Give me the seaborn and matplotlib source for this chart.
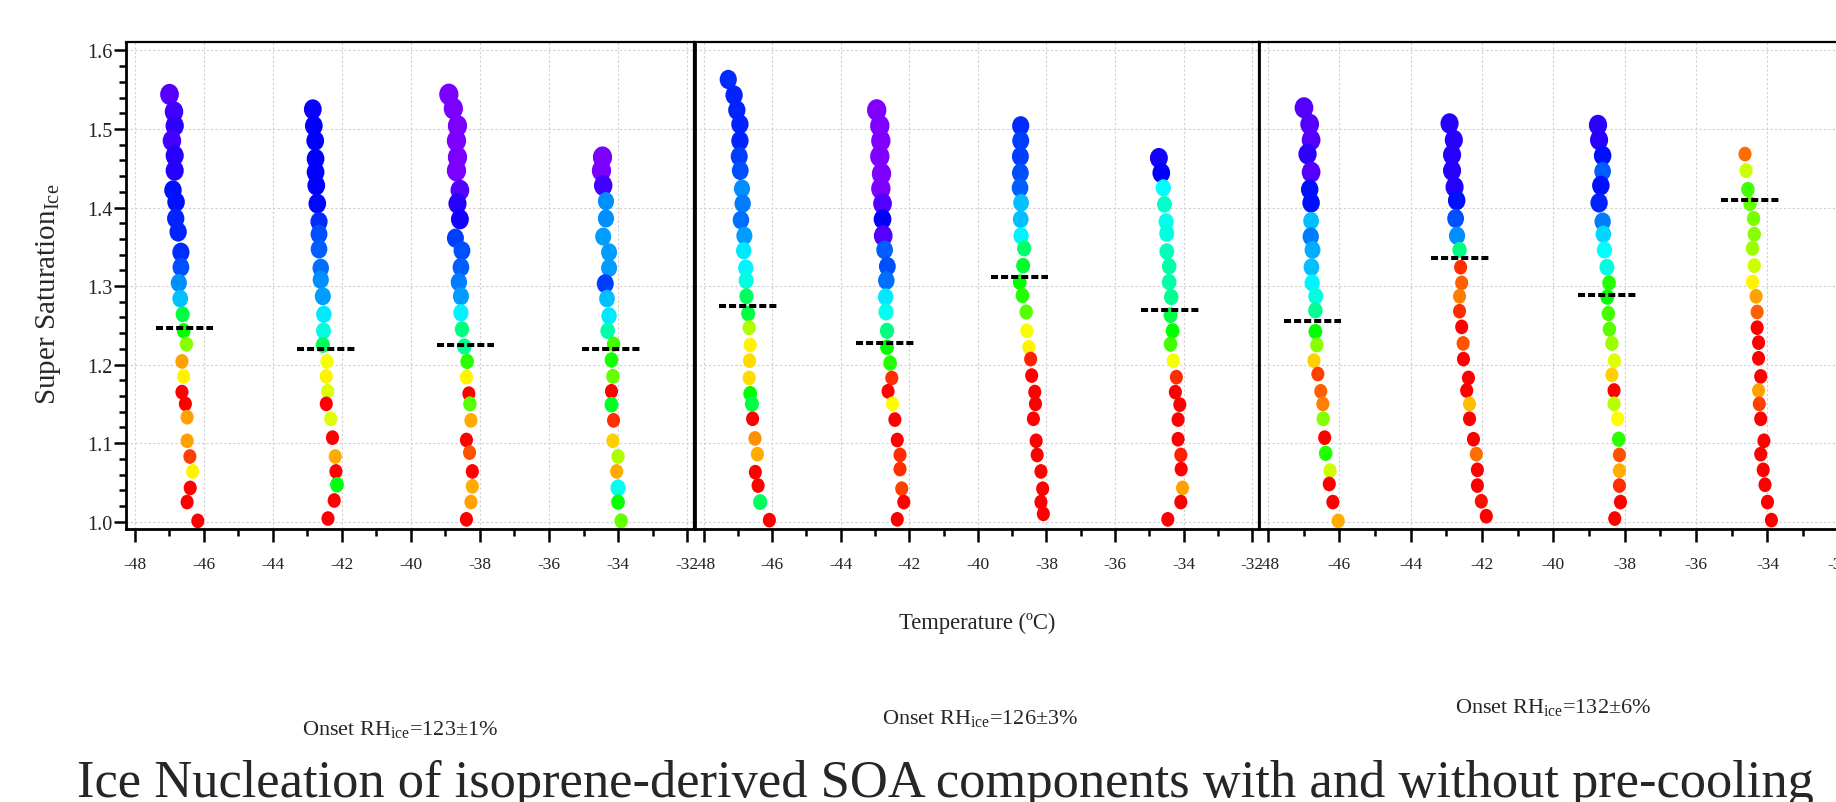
import numpy as np
import pandas as pd
import matplotlib
matplotlib.use("Agg")
import matplotlib.pyplot as plt
import seaborn as sns
from matplotlib.colors import ListedColormap, hsv_to_rgb
from matplotlib.path import Path
from matplotlib.transforms import Affine2D
from matplotlib.ticker import MultipleLocator, FormatStrFormatter

# ---------------- data (temperature degC, ice supersaturation, colour hue in degrees) ----------------
# Panel 1 : Onset RHice = 123 +/- 1 %
p1a_t = [-46.99, -46.86, -46.84, -46.92, -46.84, -46.84, -46.89, -46.80, -46.81, -46.74, -46.66, -46.66, -46.72, -46.68,
         -46.61, -46.58, -46.50, -46.63, -46.58, -46.63, -46.53, -46.48, -46.48, -46.40, -46.32, -46.39, -46.48, -46.17]
p1a_s = [1.544, 1.522, 1.504, 1.485, 1.466, 1.447, 1.422, 1.407, 1.386, 1.369, 1.343, 1.324, 1.304, 1.284,
         1.264, 1.243, 1.226, 1.204, 1.185, 1.165, 1.150, 1.133, 1.103, 1.083, 1.064, 1.043, 1.025, 1.001]
p1a_h = [259, 255, 251, 255, 248, 248, 236, 236, 232, 232, 229, 221, 206, 195,
         135, 120, 88, 38, 58, 0, 0, 38, 38, 15, 58, 0, 0, 0]

p1b_t = [-42.84, -42.81, -42.77, -42.76, -42.76, -42.74, -42.71, -42.66, -42.66, -42.66, -42.61, -42.61, -42.55, -42.52,
         -42.53, -42.55, -42.43, -42.45, -42.41, -42.45, -42.32, -42.27, -42.19, -42.17, -42.14, -42.22, -42.40]
p1b_s = [1.525, 1.504, 1.485, 1.462, 1.445, 1.428, 1.405, 1.382, 1.366, 1.347, 1.323, 1.308, 1.287, 1.264,
         1.243, 1.225, 1.204, 1.185, 1.166, 1.150, 1.131, 1.107, 1.083, 1.064, 1.047, 1.027, 1.004]
p1b_h = [242, 240, 240, 240, 240, 240, 238, 229, 221, 218, 214, 206, 203, 185,
         172, 142, 63, 58, 68, 0, 68, 0, 41, 0, 125, 0, 0]

p1c_t = [-38.90, -38.77, -38.65, -38.68, -38.65, -38.68, -38.58, -38.65, -38.58, -38.71, -38.52, -38.55, -38.61, -38.55,
         -38.55, -38.52, -38.45, -38.37, -38.39, -38.32, -38.29, -38.26, -38.39, -38.30, -38.22, -38.22, -38.26, -38.39]
p1c_s = [1.544, 1.526, 1.504, 1.485, 1.464, 1.447, 1.422, 1.405, 1.385, 1.361, 1.345, 1.324, 1.305, 1.287,
         1.266, 1.245, 1.223, 1.204, 1.184, 1.163, 1.150, 1.129, 1.104, 1.088, 1.064, 1.045, 1.025, 1.003]
p1c_h = [268, 268, 268, 268, 268, 268, 259, 248, 244, 225, 221, 218, 210, 203,
         183, 150, 154, 110, 58, 0, 100, 41, 0, 19, 0, 41, 38, 0]

p1d_t = [-34.45, -34.48, -34.43, -34.35, -34.35, -34.43, -34.26, -34.26, -34.37, -34.32, -34.26, -34.30,
         -34.13, -34.19, -34.15, -34.19, -34.19, -34.13, -34.15, -34.00, -34.04, -34.00, -34.00, -33.91]
p1d_s = [1.464, 1.447, 1.428, 1.408, 1.386, 1.363, 1.343, 1.323, 1.303, 1.284, 1.262, 1.243,
         1.226, 1.206, 1.185, 1.166, 1.149, 1.129, 1.103, 1.083, 1.064, 1.043, 1.025, 1.001]
p1d_h = [268, 268, 255, 206, 206, 203, 203, 203, 225, 195, 185, 160,
         105, 115, 96, 0, 128, 11, 49, 80, 41, 176, 118, 96]

# Panel 2 : Onset RHice = 126 +/- 3 %
p2a_t = [-47.28, -47.11, -47.03, -46.94, -46.94, -46.96, -46.93, -46.88, -46.86, -46.91, -46.81, -46.83, -46.77, -46.76, -46.75,
         -46.70, -46.67, -46.64, -46.66, -46.67, -46.64, -46.59, -46.57, -46.50, -46.43, -46.49, -46.41, -46.35, -46.08]
p2a_s = [1.563, 1.543, 1.524, 1.506, 1.485, 1.465, 1.447, 1.424, 1.405, 1.384, 1.364, 1.345, 1.323, 1.307, 1.287,
         1.265, 1.247, 1.225, 1.205, 1.183, 1.163, 1.150, 1.131, 1.106, 1.086, 1.063, 1.046, 1.025, 1.002]
p2a_h = [229, 232, 232, 232, 232, 225, 221, 206, 210, 214, 203, 185, 182, 172, 142,
         135, 80, 58, 52, 52, 120, 135, 0, 34, 41, 0, 0, 142, 0]

p2b_t = [-42.95, -42.86, -42.83, -42.86, -42.81, -42.83, -42.78, -42.78, -42.76, -42.72, -42.64, -42.67, -42.69, -42.68,
         -42.65, -42.65, -42.56, -42.51, -42.62, -42.49, -42.42, -42.35, -42.27, -42.27, -42.22, -42.16, -42.35]
p2b_s = [1.524, 1.504, 1.485, 1.465, 1.443, 1.424, 1.405, 1.385, 1.364, 1.346, 1.325, 1.307, 1.286, 1.267,
         1.243, 1.222, 1.202, 1.183, 1.166, 1.150, 1.130, 1.104, 1.085, 1.067, 1.042, 1.025, 1.003]
p2b_h = [270, 270, 270, 270, 270, 270, 259, 240, 259, 218, 221, 214, 185, 176,
         150, 120, 112, 11, 0, 60, 0, 0, 11, 11, 15, 0, 0]

p2c_t = [-38.75, -38.75, -38.76, -38.76, -38.77, -38.74, -38.75, -38.74, -38.65, -38.68, -38.78, -38.70, -38.59,
         -38.57, -38.51, -38.46, -38.43, -38.34, -38.32, -38.38, -38.30, -38.27, -38.16, -38.11, -38.16, -38.09]
p2c_s = [1.504, 1.485, 1.465, 1.444, 1.425, 1.406, 1.385, 1.364, 1.348, 1.326, 1.305, 1.288, 1.267,
         1.243, 1.222, 1.207, 1.186, 1.165, 1.150, 1.131, 1.103, 1.085, 1.064, 1.042, 1.025, 1.010]
p2c_h = [229, 225, 225, 221, 218, 195, 195, 182, 145, 130, 120, 112, 100,
         63, 58, 8, 0, 0, 0, 0, 0, 0, 0, 0, 0, 0]

p2d_t = [-34.72, -34.65, -34.59, -34.56, -34.51, -34.49, -34.49, -34.42, -34.42, -34.36, -34.38, -34.32,
         -34.38, -34.30, -34.21, -34.24, -34.11, -34.16, -34.16, -34.08, -34.07, -34.03, -34.08, -34.46]
p2d_s = [1.463, 1.444, 1.425, 1.404, 1.382, 1.367, 1.344, 1.325, 1.305, 1.286, 1.263, 1.243,
         1.226, 1.205, 1.184, 1.165, 1.149, 1.130, 1.105, 1.085, 1.067, 1.043, 1.025, 1.003]
p2d_h = [244, 240, 180, 168, 176, 172, 164, 160, 160, 154, 135, 120,
         105, 63, 11, 0, 0, 0, 0, 8, 0, 38, 0, 0]

# Panel 3 : Onset RHice = 132 +/- 6 %
p3a_t = [-46.99, -46.83, -46.79, -46.89, -46.79, -46.83, -46.79, -46.79, -46.80, -46.75, -46.78, -46.76, -46.66, -46.67,
         -46.67, -46.63, -46.71, -46.60, -46.52, -46.46, -46.45, -46.41, -46.38, -46.26, -46.28, -46.18, -46.03]
p3a_s = [1.527, 1.506, 1.486, 1.468, 1.445, 1.423, 1.406, 1.383, 1.363, 1.346, 1.324, 1.304, 1.287, 1.269,
         1.242, 1.225, 1.205, 1.188, 1.166, 1.150, 1.131, 1.107, 1.087, 1.065, 1.048, 1.025, 1.001]
p3a_h = [259, 259, 259, 251, 259, 236, 236, 195, 210, 199, 195, 182, 172, 154,
         120, 88, 49, 15, 23, 30, 88, 0, 112, 72, 0, 0, 41]

p3b_t = [-42.91, -42.79, -42.84, -42.84, -42.77, -42.71, -42.74, -42.70, -42.63, -42.60, -42.57, -42.63, -42.63,
         -42.57, -42.53, -42.52, -42.38, -42.43, -42.35, -42.35, -42.24, -42.16, -42.13, -42.13, -42.02, -41.88]
p3b_s = [1.507, 1.486, 1.467, 1.447, 1.426, 1.409, 1.386, 1.364, 1.346, 1.324, 1.304, 1.287, 1.268,
         1.248, 1.227, 1.207, 1.183, 1.167, 1.150, 1.131, 1.105, 1.086, 1.066, 1.046, 1.026, 1.007]
p3b_h = [248, 248, 248, 248, 248, 236, 221, 206, 150, 11, 23, 30, 11,
         0, 19, 0, 0, 0, 45, 0, 0, 26, 0, 0, 4, 0]

p3c_t = [-38.75, -38.72, -38.62, -38.62, -38.67, -38.72, -38.62, -38.60, -38.57, -38.50, -38.44, -38.49, -38.46,
         -38.43, -38.36, -38.29, -38.36, -38.30, -38.30, -38.20, -38.17, -38.15, -38.15, -38.15, -38.12, -38.28]
p3c_s = [1.505, 1.486, 1.466, 1.446, 1.428, 1.406, 1.382, 1.366, 1.346, 1.324, 1.304, 1.286, 1.265,
         1.245, 1.227, 1.205, 1.187, 1.167, 1.150, 1.131, 1.105, 1.085, 1.065, 1.046, 1.025, 1.004]
p3c_h = [251, 248, 236, 218, 236, 232, 210, 189, 180, 172, 112, 120, 105,
         100, 84, 68, 49, 0, 76, 60, 110, 19, 41, 11, 0, 0]

p3d_t = [-34.63, -34.60, -34.55, -34.49, -34.39, -34.37, -34.42, -34.37, -34.42, -34.32, -34.29, -34.29,
         -34.25, -34.25, -34.19, -34.25, -34.23, -34.19, -34.10, -34.19, -34.12, -34.07, -34.00, -33.89]
p3d_s = [1.468, 1.447, 1.423, 1.405, 1.386, 1.366, 1.348, 1.326, 1.305, 1.287, 1.267, 1.247,
         1.228, 1.208, 1.185, 1.167, 1.150, 1.131, 1.103, 1.086, 1.066, 1.047, 1.025, 1.002]
p3d_h = [26, 72, 105, 96, 92, 88, 84, 72, 58, 38, 23, 0,
         0, 0, 0, 38, 15, 0, 0, 0, 0, 0, 0, 0]

# onset (dashed) levels and their temperature extents, per panel
onset1_s = [1.246, 1.220, 1.2255, 1.220]
onset1_x0 = [-47.39, -43.29, -39.23, -35.03]
onset1_x1 = [-45.74, -41.59, -37.59, -33.35]
onset2_s = [1.274, 1.228, 1.312, 1.270]
onset2_x0 = [-47.55, -43.55, -39.61, -35.24]
onset2_x1 = [-45.86, -41.87, -37.94, -33.49]
onset3_s = [1.256, 1.336, 1.288, 1.409]
onset3_x0 = [-47.55, -43.42, -39.30, -35.31]
onset3_x1 = [-45.95, -41.80, -37.67, -33.65]

onset_labels = ["Onset RH$_{\\rm ice}$=123±1%", "Onset RH$_{\\rm ice}$=126±3%", "Onset RH$_{\\rm ice}$=132±6%"]
x_label = "Temperature (ºC)"
y_label = "Super Saturation$_{\\rm Ice}$"
title = "Ice Nucleation of isoprene-derived SOA components with and without pre-cooling"

# ---------------- build frames ----------------
def frame(cols):
    parts = [pd.DataFrame({"t": t, "s": s, "h": h}) for t, s, h in cols]
    return pd.concat(parts, ignore_index=True)

panels = [
    frame([(p1a_t, p1a_s, p1a_h), (p1b_t, p1b_s, p1b_h), (p1c_t, p1c_s, p1c_h), (p1d_t, p1d_s, p1d_h)]),
    frame([(p2a_t, p2a_s, p2a_h), (p2b_t, p2b_s, p2b_h), (p2c_t, p2c_s, p2c_h), (p2d_t, p2d_s, p2d_h)]),
    frame([(p3a_t, p3a_s, p3a_h), (p3b_t, p3b_s, p3b_h), (p3c_t, p3c_s, p3c_h), (p3d_t, p3d_s, p3d_h)]),
]
onsets = [(onset1_s, onset1_x0, onset1_x1), (onset2_s, onset2_x0, onset2_x1), (onset3_s, onset3_x0, onset3_x1)]

# ---------------- style ----------------
sns.set_theme(style="ticks")
plt.rcParams['font.family'] = ['Liberation Serif', 'DejaVu Serif']
plt.rcParams['mathtext.fontset'] = 'custom'
plt.rcParams['mathtext.rm'] = 'Liberation Serif'
plt.rcParams['mathtext.it'] = 'Liberation Serif:italic'
plt.rcParams['mathtext.bf'] = 'Liberation Serif:bold'
plt.rcParams['axes.unicode_minus'] = False

hues = np.linspace(0, 270, 256) / 360.0
cmap = ListedColormap(hsv_to_rgb(np.column_stack([hues, np.ones(256), np.ones(256)])))
ellipse = Affine2D().scale(0.89, 1.0).transform_path(Path.unit_circle())

W, H = 1836, 803
fig = plt.figure(figsize=(W / 100, H / 100), dpi=100)
top_px, bot_px = 43, 530
panel_px = [(126, 694), (695, 1259), (1259, 1846)]

for i, (l, r) in enumerate(panel_px):
    ax = fig.add_axes([l / W, 1 - bot_px / H, (r - l) / W, (bot_px - top_px) / H])
    d = panels[i].copy()
    d["mag"] = (d["h"] / 270.0) ** 3
    sns.scatterplot(data=d, x="t", y="s", hue="h", palette=cmap, hue_norm=(0, 270),
                    size="mag", sizes=(112, 245), size_norm=(0, 1), marker=ellipse,
                    linewidth=0, legend=False, ax=ax, zorder=2)
    lv, x0, x1 = onsets[i]
    ax.hlines(lv, x0, x1, colors="black", linewidth=2.9, linestyles=(0, (1.75, 0.75)), zorder=3)

    ax.set_xlim(-48.25, -31.8)
    ax.set_ylim(0.9907, 1.6107)
    ax.set_xlabel("")
    ax.set_ylabel("")
    ax.xaxis.set_major_locator(MultipleLocator(2))
    ax.xaxis.set_minor_locator(MultipleLocator(1))
    ax.yaxis.set_major_locator(MultipleLocator(0.1))
    ax.yaxis.set_minor_locator(MultipleLocator(0.02))
    ax.grid(True, which="major", color="#d0d0d0", linestyle=(0, (2, 2)), linewidth=0.8)
    ax.set_axisbelow(True)
    ax.tick_params(axis="x", which="major", bottom=True, direction="out", length=9.6, width=1.8,
                   labelsize=12.5, pad=10, colors="black", labelcolor="#222222")
    ax.tick_params(axis="x", which="minor", bottom=True, direction="out", length=4.8, width=1.8, colors="black")
    if i == 0:
        ax.tick_params(axis="y", which="major", left=True, direction="out", length=8.4, width=1.8,
                       labelsize=14.5, pad=1, colors="black", labelcolor="#222222")
        ax.tick_params(axis="y", which="minor", left=True, direction="out", length=4.8, width=1.8, colors="black")
        ax.yaxis.set_major_formatter(FormatStrFormatter("%.1f"))
    else:
        ax.tick_params(axis="y", which="both", left=False, labelleft=False)
    for name, sp in ax.spines.items():
        sp.set_visible(True)
        sp.set_color("black")
        sp.set_linewidth(2.0 if name in ("left", "bottom") else 1.6)

# ---------------- texts ----------------
fig.text(49 / W, 1 - 294 / H, y_label, rotation=90, ha="center", va="center", fontsize=21)
fig.text(977 / W, 1 - 629 / H, x_label, ha="center", va="baseline", fontsize=16.3)
for (x, yb), lab in zip([(302, 735), (882, 724), (1455, 713)], onset_labels):
    fig.text(x / W, 1 - yb / H, lab, ha="left", va="baseline", fontsize=16)
fig.text(77 / W, 1 - 797 / H, title, ha="left", va="baseline", fontsize=37.8)

fig.savefig("out.png", dpi=100)
